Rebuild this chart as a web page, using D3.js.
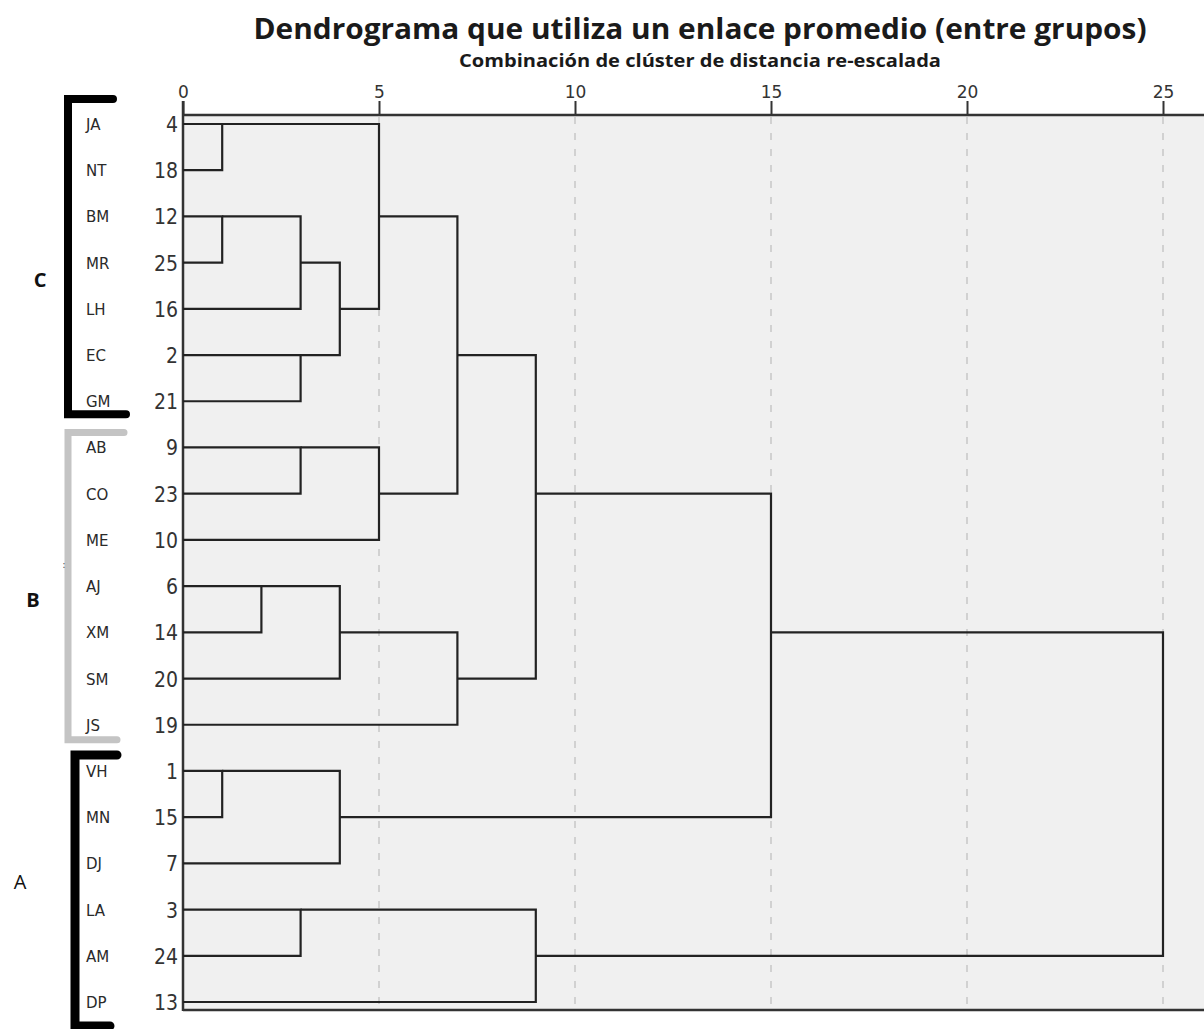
<!DOCTYPE html>
<html lang="es">
<head>
    <meta charset="UTF-8">
    <title>Dendrograma</title>
    <script src="https://d3js.org/d3.v7.min.js"></script>
    <style>
        body { margin: 0; background: #fff; }
    </style>
</head>
<body>
    <div id="chart"></div>

    <script>
        // Leaves (top to bottom) and their case numbers
        const leafNames = ["JA", "NT", "BM", "MR", "LH", "EC", "GM", "AB", "CO", "ME",
                           "AJ", "XM", "SM", "JS", "VH", "MN", "DJ", "LA", "AM", "DP"];
        const caseNumbers = [4, 18, 12, 25, 16, 2, 21, 9, 23, 10, 6, 14, 20, 19, 1, 15, 7, 3, 24, 13];

        // Merge schedule: node ids 0..19 are leaves, each merge creates id 20, 21, ...
        const mergeA = [0, 2, 21, 5, 22, 20, 7, 26, 25, 10, 29, 30, 28, 14, 33, 32, 17, 36, 35];
        const mergeB = [1, 3, 4, 6, 23, 24, 8, 9, 27, 11, 12, 13, 31, 15, 16, 34, 18, 19, 37];
        const mergeDistance = [1, 1, 3, 3, 4, 5, 3, 5, 7, 2, 4, 7, 9, 1, 4, 15, 3, 9, 25];

        const distanceTicks = [0, 5, 10, 15, 20, 25];

        // Brackets on the left
        const groupLabels = ["C", "B", "A"];
        const groupFirst = [0, 7, 14];
        const groupLast = [6, 13, 19];

        const width = 1204;
        const height = 1029;

        const svg = d3.select("#chart")
            .append("svg")
            .attr("width", width)
            .attr("height", height);

        const x = d3.scaleLinear().domain([0, 25]).range([183, 1163]);
        const y = d3.scaleLinear().domain([0, leafNames.length - 1]).range([124, 1002]);

        const plotTop = 115, plotBottom = 1010;

        // plot background
        svg.append("rect")
            .attr("x", x(0)).attr("y", plotTop)
            .attr("width", width - x(0)).attr("height", plotBottom - plotTop)
            .attr("fill", "#f0f0f0");

        // dashed grid lines
        svg.selectAll(".grid")
            .data(distanceTicks.filter(d => d > 0))
            .enter().append("line")
            .attr("x1", d => x(d)).attr("x2", d => x(d))
            .attr("y1", plotTop + 2).attr("y2", plotBottom)
            .attr("stroke", "#c6c6c6")
            .attr("stroke-width", 1.5)
            .attr("stroke-dasharray", "7,9");

        // top axis
        const axis = svg.append("g")
            .attr("transform", `translate(0,${plotTop})`)
            .call(d3.axisTop(x).tickValues(distanceTicks).tickSize(14).tickSizeOuter(0));
        axis.select(".domain").remove();
        axis.selectAll(".tick line").attr("stroke", "#333").attr("stroke-width", 2);
        axis.selectAll(".tick text")
            .attr("font-family", "'DejaVu Sans', sans-serif")
            .attr("font-size", 17)
            .attr("fill", "#333")
            .attr("dy", "0");

        svg.append("line")
            .attr("x1", x(0)).attr("x2", width)
            .attr("y1", plotTop).attr("y2", plotTop)
            .attr("stroke", "#333").attr("stroke-width", 2.5);
        svg.append("line")
            .attr("x1", x(0)).attr("x2", width)
            .attr("y1", plotBottom).attr("y2", plotBottom)
            .attr("stroke", "#333").attr("stroke-width", 2.5);
        svg.append("line")
            .attr("x1", x(0)).attr("x2", x(0))
            .attr("y1", plotTop - 14).attr("y2", plotBottom + 1)
            .attr("stroke", "#333").attr("stroke-width", 2.5);

        // titles
        svg.append("text")
            .attr("x", 700).attr("y", 39)
            .attr("text-anchor", "middle")
            .attr("font-family", "'Open Sans', sans-serif")
            .attr("font-weight", "bold")
            .attr("font-size", 29)
            .attr("fill", "#1a1a1a")
            .attr("textLength", 893)
            .attr("lengthAdjust", "spacingAndGlyphs")
            .text("Dendrograma que utiliza un enlace promedio (entre grupos)");

        svg.append("text")
            .attr("x", 700).attr("y", 67)
            .attr("text-anchor", "middle")
            .attr("font-family", "'Open Sans', sans-serif")
            .attr("font-weight", "bold")
            .attr("font-size", 17)
            .attr("fill", "#1a1a1a")
            .attr("textLength", 482)
            .attr("lengthAdjust", "spacingAndGlyphs")
            .text("Combinación de clúster de distancia re-escalada");

        // build nodes: row and distance for every leaf and cluster
        const nodes = leafNames.map((name, i) => ({ row: i, dist: 0 }));
        mergeDistance.forEach((d, i) => {
            const a = nodes[mergeA[i]], b = nodes[mergeB[i]];
            nodes.push({ row: Math.floor((a.row + b.row) / 2), dist: d });
        });

        // dendrogram links
        const links = [];
        mergeDistance.forEach((d, i) => {
            const a = nodes[mergeA[i]], b = nodes[mergeB[i]];
            links.push([[x(a.dist), y(a.row)], [x(d), y(a.row)], [x(d), y(b.row)], [x(b.dist), y(b.row)]]);
        });

        svg.selectAll(".link")
            .data(links)
            .enter().append("path")
            .attr("d", d3.line())
            .attr("fill", "none")
            .attr("stroke", "#222")
            .attr("stroke-width", 2.2);

        // leaf labels and case numbers
        svg.selectAll(".leaf")
            .data(leafNames)
            .enter().append("text")
            .attr("x", 86)
            .attr("y", (d, i) => y(i) + 6)
            .attr("font-family", "'DejaVu Sans', sans-serif")
            .attr("font-size", 15)
            .attr("fill", "#2a2a2a")
            .text(d => d);

        svg.selectAll(".case")
            .data(caseNumbers)
            .enter().append("text")
            .attr("x", 178)
            .attr("y", (d, i) => y(i) + 8)
            .attr("text-anchor", "end")
            .attr("font-family", "'DejaVu Sans Condensed', 'DejaVu Sans', sans-serif")
            .attr("font-size", 21)
            .attr("fill", "#333")
            .text(d => d);

        // group brackets
        const bracketX = [68, 68, 75];
        const bracketColor = ["#000", "#c4c4c4", "#000"];
        const bracketWidth = [8, 7, 9];
        const bracketTop = [y(groupFirst[0]) - 25, y(groupFirst[1]) - 15, y(groupFirst[2]) - 16];
        const bracketBottom = [y(groupLast[0]) + 13, y(groupLast[1]) + 15, y(groupLast[2]) + 24];
        const bracketTopEnd = [113, 124, 117];
        const bracketBottomEnd = [126, 117, 110];

        groupLabels.forEach((g, i) => {
            svg.append("path")
                .attr("d", `M${bracketTopEnd[i]},${bracketTop[i]} H${bracketX[i]} V${bracketBottom[i]} H${bracketBottomEnd[i]}`)
                .attr("fill", "none")
                .attr("stroke", bracketColor[i])
                .attr("stroke-width", bracketWidth[i])
                .attr("stroke-linecap", "round")
                .attr("stroke-linejoin", "miter");
        });

        const labelX = [40, 33, 20];
        const labelY = [280, 600, 882];
        const labelWeight = ["bold", "bold", "normal"];
        svg.selectAll(".group")
            .data(groupLabels)
            .enter().append("text")
            .attr("x", (d, i) => labelX[i])
            .attr("y", (d, i) => labelY[i] + 7)
            .attr("text-anchor", "middle")
            .attr("font-family", "'Open Sans', sans-serif")
            .attr("font-weight", (d, i) => labelWeight[i])
            .attr("font-size", 20)
            .attr("fill", "#111")
            .text(d => d);

        // small stray mark next to the B bracket
        svg.append("text")
            .attr("x", 64).attr("y", 568)
            .attr("text-anchor", "middle")
            .attr("font-family", "'DejaVu Sans', sans-serif")
            .attr("font-size", 10)
            .attr("fill", "#555")
            .text(":");
    </script>
</body>
</html>
